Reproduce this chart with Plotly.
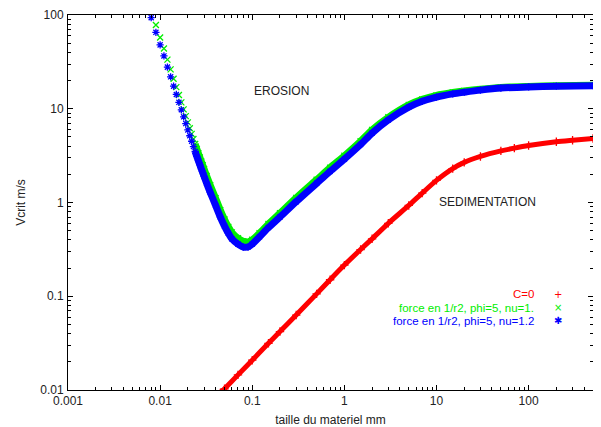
import plotly.graph_objects as go

# ---------------- data ----------------
X_TICKS = [0.001, 0.01, 0.1, 1, 10, 100]
X_TICK_LABELS = ["0.001", "0.01", "0.1", "1", "10", "100"]
Y_TICKS = [0.01, 0.1, 1, 10, 100]
Y_TICK_LABELS = ["0.01", "0.1", "1", "10", "100"]

# grain size (mm) shared by the two "force en 1/r2" series
X_FORCE = [0.008, 0.009, 0.010, 0.011, 0.012, 0.013, 0.014, 0.015, 0.016, 0.017,
           0.018, 0.019, 0.020, 0.021, 0.022, 0.023, 0.024, 0.025, 0.026, 0.027,
           0.028, 0.029, 0.030, 0.032, 0.035, 0.04, 0.045, 0.05, 0.055, 0.06,
           0.07, 0.08, 0.09, 0.1, 0.12, 0.15, 0.2, 0.3, 0.5, 0.7,
           1.0, 1.5, 2.0, 3.0, 5.0, 7.0, 10, 15, 20, 30,
           50, 100, 200, 500]

# force en 1/r2, phi=5, nu=1.  (green)
Y_NU1 = [112, 78.3, 57.5, 43.9, 33.4, 26.3, 20.9, 17.0, 14.0, 11.7,
         9.85, 8.35, 7.15, 6.2, 5.4, 4.75, 4.2, 3.72, 3.35, 3.02,
         2.74, 2.5, 2.28, 1.92, 1.53, 1.11, 0.83, 0.66, 0.55, 0.48,
         0.415, 0.385, 0.38, 0.40, 0.47, 0.59, 0.77, 1.12, 1.75, 2.35,
         3.15, 4.5, 5.95, 8.1, 11.0, 12.6, 13.9, 14.9, 15.5, 16.2,
         16.9, 17.3, 17.6, 17.8]

# force en 1/r2, phi=5, nu=1.2  (blue)
Y_NU12 = [93.6, 65.3, 48.0, 36.6, 27.8, 21.9, 17.4, 14.2, 11.7, 9.75,
          8.2, 6.95, 5.95, 5.15, 4.5, 3.95, 3.5, 3.1, 2.8, 2.52,
          2.28, 2.08, 1.9, 1.6, 1.28, 0.93, 0.70, 0.56, 0.47, 0.41,
          0.36, 0.335, 0.335, 0.36, 0.43, 0.54, 0.70, 1.02, 1.6, 2.15,
          2.9, 4.15, 5.5, 7.6, 10.4, 12.0, 13.3, 14.4, 15.0, 15.8,
          16.6, 17.1, 17.4, 17.6]

# C=0 (red)
X_C0 = [0.045, 0.05, 0.07, 0.1, 0.15, 0.2, 0.3, 0.5, 0.7, 1.0,
        1.5, 2.0, 3.0, 5.0, 7.0, 10, 15, 20, 30, 50,
        70, 100, 200, 300, 500]
Y_C0 = [0.0093, 0.0103, 0.0145, 0.0208, 0.0315, 0.042, 0.063, 0.106, 0.150, 0.215,
        0.315, 0.41, 0.60, 0.93, 1.26, 1.72, 2.3, 2.68, 3.1, 3.55,
        3.8, 4.05, 4.45, 4.62, 4.82]

SERIES_NAMES = ["C=0", "force en 1/r2, phi=5, nu=1.", "force en 1/r2, phi=5, nu=1.2"]
COLORS = ["#ff0000", "#00ee00", "#0000ff"]
LEGEND_SYMBOLS = ["+", "×", "✱"]

FONT = "Liberation Sans, Arial, Helvetica, sans-serif"
TEXT_COLOR = "#222222"

# index where the markers merge into a continuous band
BAND_START = X_FORCE.index(0.024)

fig = go.Figure()


def add_series(x, y, name, color, symbol, size, band_width, band_from):
    # continuous band (markers overlap so densely that they form a thick line)
    fig.add_trace(go.Scatter(
        x=x[band_from:], y=y[band_from:], mode="lines", name=name,
        line=dict(color=color, width=band_width, shape="spline", smoothing=0.7),
        showlegend=False, hoverinfo="skip"))
    # the individual point markers
    fig.add_trace(go.Scatter(
        x=x, y=y, mode="markers", name=name,
        marker=dict(symbol=symbol, size=size, color=color,
                    line=dict(color=color, width=1.3)),
        showlegend=False))


add_series(X_C0, Y_C0, SERIES_NAMES[0], COLORS[0], "cross-thin-open", 6, 5, 0)
add_series(X_FORCE, Y_NU1, SERIES_NAMES[1], COLORS[1], "x-thin-open", 6, 7, BAND_START)
add_series(X_FORCE, Y_NU12, SERIES_NAMES[2], COLORS[2], "asterisk-open", 6, 7, BAND_START)

axis_common = dict(
    type="log", showline=True, linecolor="black", linewidth=1, mirror="allticks",
    ticks="inside", ticklen=5, tickwidth=1, tickcolor="black",
    showgrid=False, zeroline=False, automargin=False, ticklabeloverflow="allow",
    tickfont=dict(family=FONT, size=12, color=TEXT_COLOR),
    minor=dict(ticks="inside", ticklen=3, tickwidth=1, tickcolor="black",
               dtick="D1", showgrid=False),
)

fig.update_xaxes(
    **axis_common, range=[-3, 2.69897], tickmode="array",
    tickvals=X_TICKS, ticktext=X_TICK_LABELS, ticklabelstandoff=0,
    title=dict(text="taille du materiel mm", standoff=8,
               font=dict(family=FONT, size=12, color=TEXT_COLOR)),
)
fig.update_yaxes(
    **axis_common, range=[-2, 2], tickmode="array",
    tickvals=Y_TICKS, ticktext=Y_TICK_LABELS, ticklabelstandoff=1,
    title=dict(text="Vcrit m/s", standoff=12,
               font=dict(family=FONT, size=12, color=TEXT_COLOR)),
)

# legend drawn gnuplot style: text right-aligned, symbol on the right
legend_rows_y = [0.2555, 0.2200, 0.1845]
annotations = []
for name, color, sym, yy in zip(SERIES_NAMES, COLORS, LEGEND_SYMBOLS, legend_rows_y):
    annotations.append(dict(xref="paper", yref="paper", x=0.890, y=yy,
                            xanchor="right", yanchor="middle", showarrow=False,
                            borderpad=0,
                            text=name, font=dict(family=FONT, size=11.5, color=color)))
    annotations.append(dict(xref="paper", yref="paper", x=0.9325, y=yy,
                            xanchor="center", yanchor="middle", showarrow=False,
                            borderpad=0,
                            text=sym, font=dict(family="DejaVu Sans", size=10, color=color)))

annotations.append(dict(xref="paper", yref="paper", x=0.3503, y=0.796,
                        xanchor="left", yanchor="middle", showarrow=False,
                        text="EROSION", font=dict(family=FONT, size=12, color=TEXT_COLOR)))
annotations.append(dict(xref="paper", yref="paper", x=0.703, y=0.5013,
                        xanchor="left", yanchor="middle", showarrow=False,
                        text="SEDIMENTATION", font=dict(family=FONT, size=12, color=TEXT_COLOR)))

# the page body has an 8 px margin: the figure is sized so that the plot
# frame lands where the reference draws it inside the 601x427 window
fig.update_layout(
    width=593, height=419,
    margin=dict(l=60, r=8, t=7, b=37, autoexpand=False),
    paper_bgcolor="white", plot_bgcolor="white",
    showlegend=False,
    annotations=annotations,
    font=dict(family=FONT, size=12, color=TEXT_COLOR),
)

fig.write_html("out.html")
